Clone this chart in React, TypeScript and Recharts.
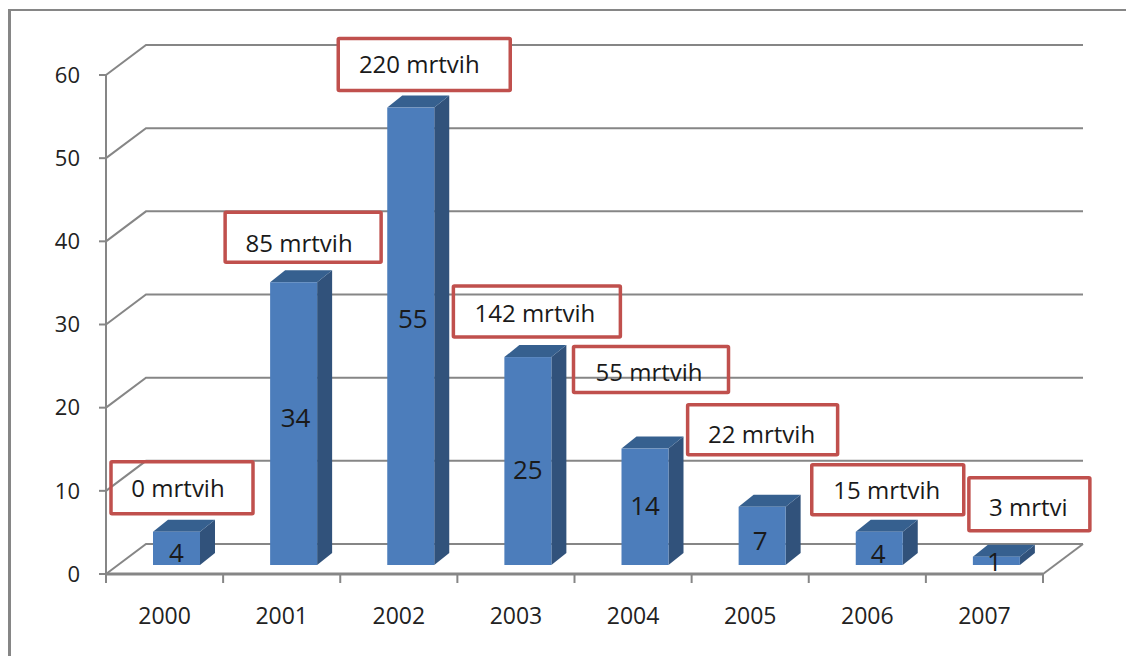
import React from "react";
import { BarChart, Bar, XAxis, YAxis, CartesianGrid, LabelList } from "recharts";

const years = ["2000", "2001", "2002", "2003", "2004", "2005", "2006", "2007"];
const attacks = [4, 34, 55, 25, 14, 7, 4, 1];
const callouts = ["0 mrtvih", "85 mrtvih", "220 mrtvih", "142 mrtvih", "55 mrtvih", "22 mrtvih", "15 mrtvih", "3 mrtvi"];
const yTicks = [0, 10, 20, 30, 40, 50, 60];

const data = years.map((year, i) => ({ year, attacks: attacks[i], callout: callouts[i] }));

// hand placed, relative to the top left corner of each bar's front face
const calloutBoxes = [
    { dx: -42, dy: -70, w: 142, h: 52, fill: "none", tx: 0, ty: -1 },
    { dx: -45, dy: -70, w: 156, h: 50, fill: "#fff", tx: 0, ty: 4 },
    { dx: -49, dy: -69, w: 172, h: 52, fill: "#fff", tx: -1, ty: -2 },
    { dx: -51, dy: -71, w: 167, h: 51, fill: "none", tx: 2, ty: 0 },
    { dx: -48, dy: -102, w: 155, h: 46, fill: "none", tx: 2, ty: 1 },
    { dx: -51, dy: -102, w: 150, h: 50, fill: "none", tx: 3, ty: 3 },
    { dx: -44, dy: -67, w: 152, h: 50, fill: "none", tx: 3, ty: -1 },
    { dx: -4, dy: -79, w: 121, h: 53, fill: "none", tx: 3, ty: 1 },
];
const valueNudge = [
    { x: -2, y: 4 },
    { x: 0, y: -7 },
    { x: 0, y: -18 },
    { x: -2, y: 8 },
    { x: -2, y: -2 },
    { x: -4, y: 4 },
    { x: -3, y: 5 },
    { x: -4, y: 0 },
];

const GRID = "#868686";
const DEPTH_X = 40;
const DEPTH_Y = 30;
const BAR_SHIFT_X = 12;
const BAR_SHIFT_Y = 9;
const FONT = "'Open Sans', sans-serif";

function GridLine(props: any) {
    const { x1, x2, y1, index } = props;
    const backY = y1 - DEPTH_Y;
    return (
        <g key={props.key ?? index}>
            <polyline
                points={`${x1},${y1} ${x1 + DEPTH_X},${backY} ${x2 + DEPTH_X},${backY}`}
                fill="none"
                stroke={GRID}
                strokeWidth={2}
            />
            {y1 > 570 && <line x1={x2} y1={y1} x2={x2 + DEPTH_X} y2={backY} stroke={GRID} strokeWidth={2} />}
        </g>
    );
}

function Bar3D(props: any) {
    const { x, y, width, height } = props;
    const left = x + BAR_SHIFT_X;
    const right = left + width;
    const top = y - BAR_SHIFT_Y;
    const bottom = top + height;
    const dx = 15;
    const dy = 12;
    return (
        <g>
            <polygon
                points={`${right},${top} ${right + dx},${top - dy} ${right + dx},${bottom - dy} ${right},${bottom}`}
                fill="#31527B"
            />
            <polygon
                points={`${left},${top} ${left + dx},${top - dy} ${right + dx},${top - dy} ${right},${top}`}
                fill="#36608F"
            />
            <rect x={left} y={top} width={width} height={height} fill="#4C7DBB" />
        </g>
    );
}

function ValueLabel(props: any) {
    const { x, y, width, height, index, value } = props;
    const nudge = valueNudge[index];
    return (
        <text
            x={x + BAR_SHIFT_X + width / 2 + 2 + nudge.x}
            y={y - BAR_SHIFT_Y + height / 2 + nudge.y}
            textAnchor="middle"
            dominantBaseline="central"
            fontSize={26}
            fontFamily={FONT}
            fill="#1a1a1a"
        >
            {value}
        </text>
    );
}

function Callout(props: any) {
    const { x, y, index, value } = props;
    const box = calloutBoxes[index];
    const left = x + BAR_SHIFT_X + box.dx;
    const top = y - BAR_SHIFT_Y + box.dy;
    return (
        <g>
            <rect x={left} y={top} width={box.w} height={box.h} fill={box.fill} stroke="#C0504D" strokeWidth={3.5} rx={1} />
            <text
                x={left + box.w / 2 - 4 + box.tx}
                y={top + box.h / 2 + 1 + box.ty}
                textAnchor="middle"
                dominantBaseline="central"
                fontSize={24}
                fontFamily={FONT}
                fill="#1a1a1a"
            >
                {value}
            </text>
        </g>
    );
}

function YearTick(props: any) {
    const { x, y, payload, index } = props;
    const band = 937 / years.length;
    const tickY = y - 8;
    return (
        <g>
            <line x1={x - band / 2} y1={tickY} x2={x - band / 2} y2={tickY + 9} stroke={GRID} strokeWidth={2} />
            {index === years.length - 1 && (
                <line x1={x + band / 2} y1={tickY} x2={x + band / 2} y2={tickY + 9} stroke={GRID} strokeWidth={2} />
            )}
            <text x={x} y={tickY + 41} textAnchor="middle" dominantBaseline="central" fontSize={23} fontFamily={FONT} fill="#222">
                {payload.value}
            </text>
        </g>
    );
}

export default function App() {
    return (
        <div style={{ position: "absolute", left: 0, top: 0, width: 1126, height: 656, overflow: "hidden", background: "#fff" }}>
            <div
                style={{
                    position: "absolute",
                    left: 7.5,
                    top: 9,
                    width: 1200,
                    height: 800,
                    borderLeft: "3px solid #868686",
                    borderTop: "2px solid #868686",
                }}
            />
            <BarChart
                width={1126}
                height={656}
                data={data}
                margin={{ top: 75, right: 83, bottom: 42, left: 56 }}
                style={{ position: "absolute", left: 0, top: 0 }}
            >
                <CartesianGrid vertical={false} horizontal={(p: any) => <GridLine {...p} />} />
                <XAxis
                    dataKey="year"
                    height={40}
                    interval={0}
                    tickLine={false}
                    axisLine={{ stroke: GRID, strokeWidth: 3 }}
                    tick={(p: any) => <YearTick {...p} />}
                />
                <YAxis
                    width={50}
                    domain={[0, 60]}
                    ticks={yTicks}
                    tickSize={7}
                    tickMargin={19}
                    axisLine={{ stroke: GRID, strokeWidth: 2 }}
                    tickLine={{ stroke: GRID, strokeWidth: 2 }}
                    tick={{ fontSize: 22, fontFamily: FONT, fill: "#222" }}
                />
                <Bar dataKey="attacks" barSize={47} isAnimationActive={false} shape={(p: any) => <Bar3D {...p} />}>
                    <LabelList dataKey="attacks" content={(p: any) => <ValueLabel {...p} />} />
                    <LabelList dataKey="callout" content={(p: any) => <Callout {...p} />} />
                </Bar>
            </BarChart>
        </div>
    );
}
